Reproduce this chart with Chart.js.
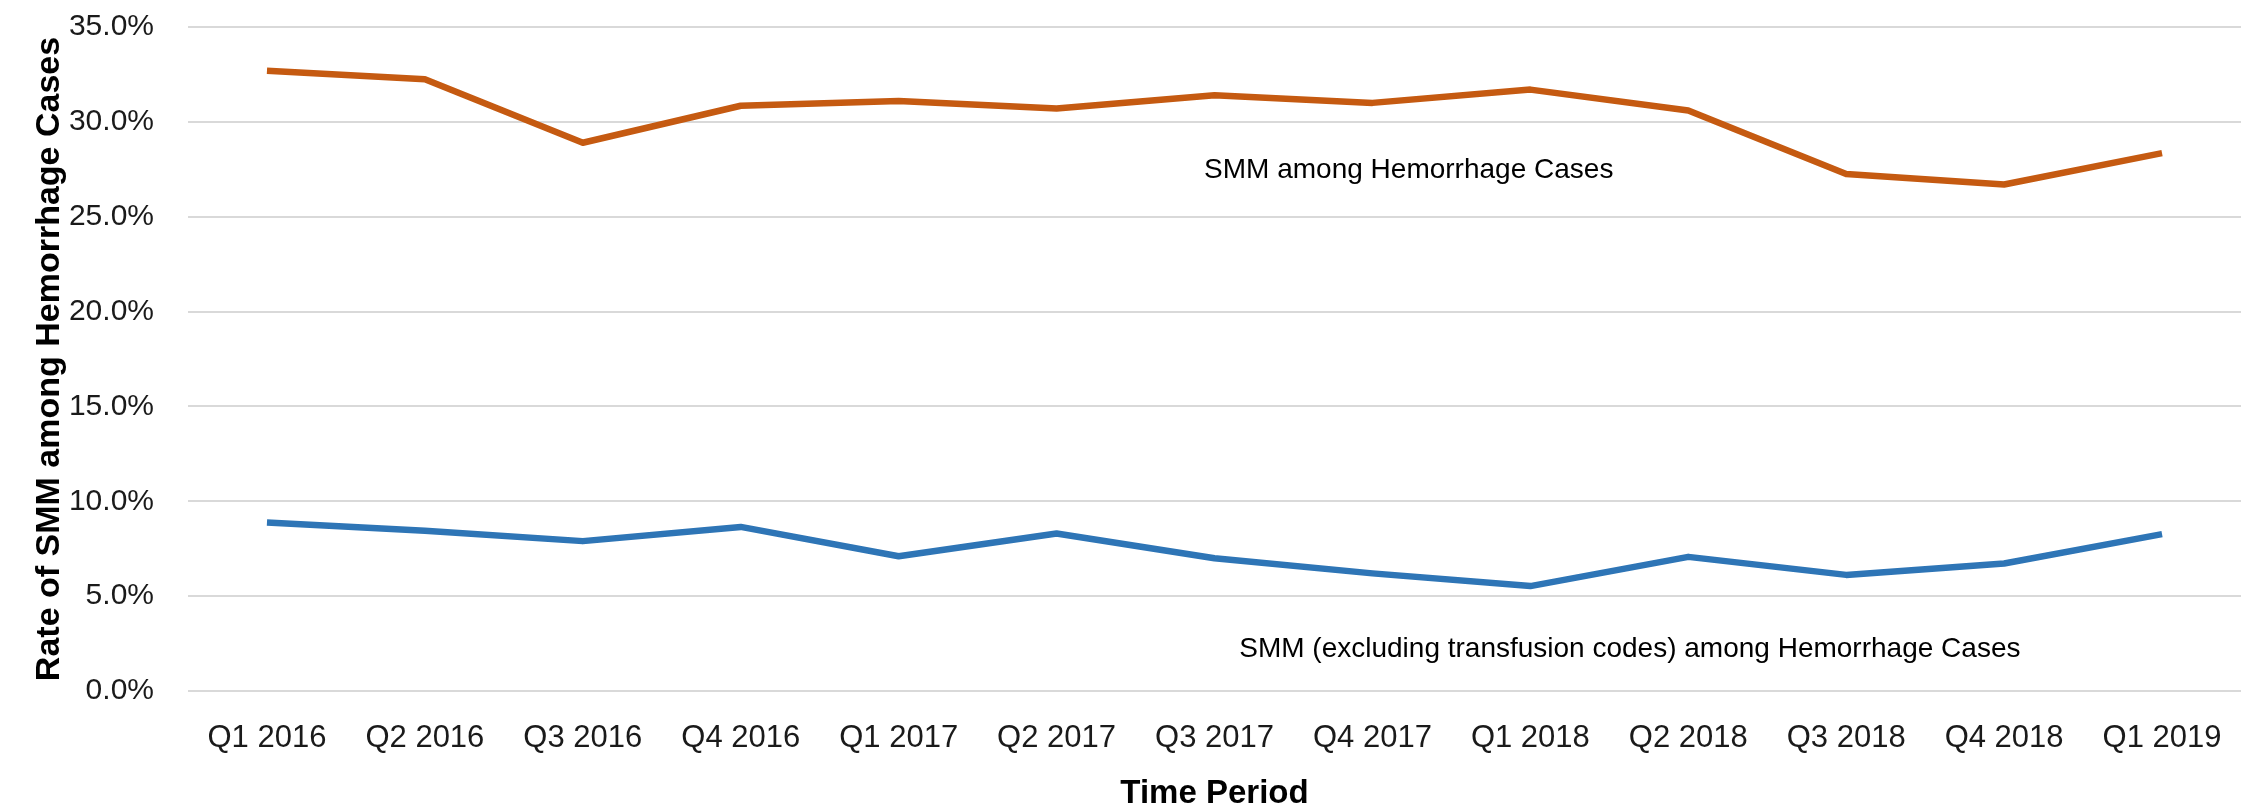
<!DOCTYPE html>
<html>
<head>
<meta charset="utf-8">
<script src="https://cdn.jsdelivr.net/npm/chart.js@4.4.1/dist/chart.umd.min.js"></script>
<style>
    html, body { margin: 0; padding: 0; background: #fff; }
    #chart_box { width: 2257px; height: 810px; }
</style>
</head>
<body>
<div id="chart_box"><canvas id="smm_chart" width="2257" height="810"></canvas></div>
<script>
/**
 * data (percent)
 */
let periodLabels = ['Q1 2016', 'Q2 2016', 'Q3 2016', 'Q4 2016', 'Q1 2017', 'Q2 2017', 'Q3 2017',
    'Q4 2017', 'Q1 2018', 'Q2 2018', 'Q3 2018', 'Q4 2018', 'Q1 2019'];
let smmAll = [32.7, 32.25, 28.9, 30.85, 31.1, 30.7, 31.4, 31.0, 31.7, 30.6, 27.25, 26.7, 28.35];
let smmNoTransfusion = [8.88, 8.45, 7.9, 8.65, 7.1, 8.3, 7.0, 6.2, 5.53, 7.07, 6.12, 6.72, 8.27];
let seriesNames = ['SMM among Hemorrhage Cases', 'SMM (excluding transfusion codes) among Hemorrhage Cases'];
let nameAnchors = [[7.23, 27.45], [8.63, 2.2]];   // [category index, value] for the in-plot labels
let yTicks = [0, 5, 10, 15, 20, 25, 30, 35];

const fontFamily = '"Liberation Sans", Arial, sans-serif';
const textColor = '#1a1a1a';


/**
 * writes the series names inside the plot, placed through the chart scales
 */
const seriesNamesPlugin = {
    id: 'seriesNames',
    afterDatasetsDraw(chart) {
        const ctx = chart.ctx;
        const xScale = chart.scales.x;
        const yScale = chart.scales.y;
        ctx.save();
        ctx.font = '28px ' + fontFamily;
        ctx.fillStyle = '#000';
        ctx.textAlign = 'center';
        ctx.textBaseline = 'middle';
        for (let i = 0; i < seriesNames.length; i++) {
            ctx.fillText(seriesNames[i],
                xScale.getPixelForValue(nameAnchors[i][0]),
                yScale.getPixelForValue(nameAnchors[i][1]));
        }
        ctx.restore();
    }
};


const smmChartConfig = {
    type: 'line',
    data: {
        labels: periodLabels,
        datasets: [{
            label: seriesNames[0],
            data: smmAll,
            borderColor: '#C55A11',
            borderWidth: 6.5,
            borderJoinStyle: 'round',
            pointRadius: 0,
            tension: 0
        }, {
            label: seriesNames[1],
            data: smmNoTransfusion,
            borderColor: '#2E75B6',
            borderWidth: 6.5,
            borderJoinStyle: 'round',
            pointRadius: 0,
            tension: 0
        }]
    },
    options: {
        responsive: false,
        animation: false,
        devicePixelRatio: 1,
        layout: {
            padding: { top: 27, right: 16, bottom: 0, left: 0 }
        },
        scales: {
            x: {
                offset: true,
                grid: { display: false, drawTicks: false },
                border: { display: false },
                ticks: {
                    color: textColor,
                    font: { family: fontFamily, size: 31 },
                    padding: 29,
                    maxRotation: 0,
                    autoSkip: false
                },
                title: {
                    display: true,
                    text: 'Time Period',
                    color: '#000',
                    font: { family: fontFamily, size: 33, weight: 'bold', lineHeight: 0.95 },
                    padding: { top: 0, bottom: 0 }
                },
                afterFit(axis) {
                    axis.height = 119;
                }
            },
            y: {
                min: 0,
                max: 35,
                afterBuildTicks(axis) {
                    axis.ticks = yTicks.map(v => ({ value: v }));
                },
                grid: { color: '#D9D9D9', lineWidth: 2, drawTicks: false },
                border: { display: false },
                ticks: {
                    color: textColor,
                    font: { family: fontFamily, size: 30 },
                    padding: 34,
                    callback: v => v.toFixed(1) + '%'
                },
                title: {
                    display: true,
                    text: 'Rate of SMM among Hemorrhage Cases',
                    color: '#000',
                    font: { family: fontFamily, size: 34, weight: 'bold', lineHeight: 1.2 },
                    padding: { top: 29, bottom: 0 }
                },
                afterFit(axis) {
                    // tick padding is only meant sideways here
                    axis.width = 188;
                    axis.paddingTop = 0;
                    axis.paddingBottom = 0;
                }
            }
        },
        plugins: {
            legend: { display: false },
            tooltip: { enabled: false }
        }
    },
    plugins: [seriesNamesPlugin]
};

const smmChart = new Chart(document.getElementById('smm_chart'), smmChartConfig);
</script>
</body>
</html>
